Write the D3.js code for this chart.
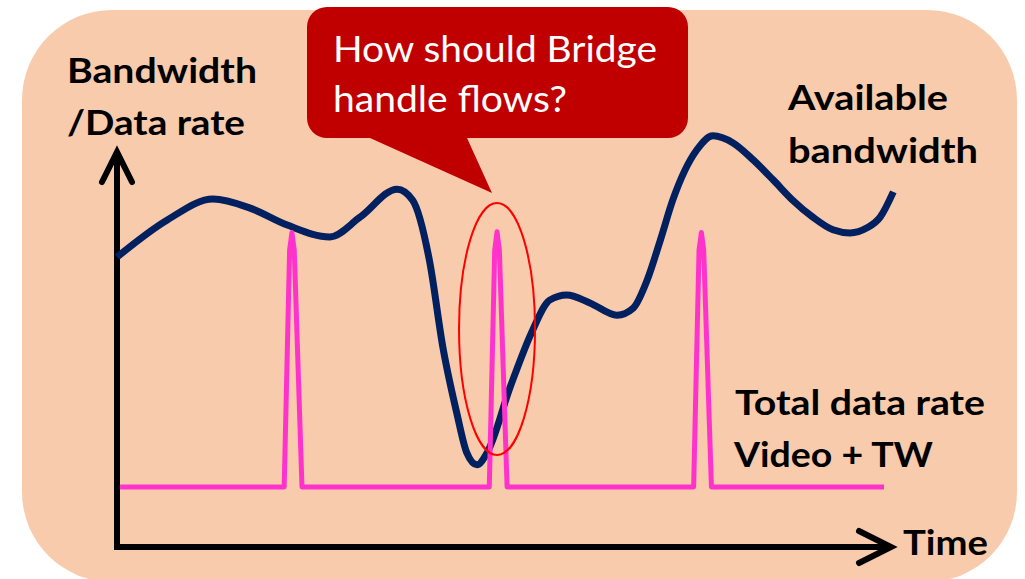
<!DOCTYPE html>
<html>
<head>
<meta charset="utf-8">
<script src="https://cdn.jsdelivr.net/npm/d3@7"></script>
<style>
  html, body { margin: 0; padding: 0; background: #fff; }
  text { font-family: Lato, "Open Sans", sans-serif; }
</style>
</head>
<body>
<script>
// available bandwidth (time, level)
let bwTime  = [0, 6.5, 12.4, 17.2, 22.0, 27.5, 31.4, 36.2, 38.2, 40.4, 42.1, 43.9, 45.2, 46.5, 47.8, 50.8, 53.7, 55.9, 58.1, 61.1, 64.6, 66.7, 68.5, 70.2, 71.8, 74.9, 77.0, 79.6, 82.2, 84.8, 87.3, 89.9, 92.5, 94.7, 96.9, 98.6, 100.3];
let bwLevel = [73.4, 82.8, 88.1, 85.8, 81.5, 78.5, 83.5, 90.6, 87.8, 72.2, 50.6, 33.9, 23.8, 20.8, 23.8, 40.5, 54.9, 62.5, 63.8, 61.8, 58.7, 60.5, 67.6, 77.7, 87.8, 100.5, 104.1, 102.3, 98.0, 92.9, 87.8, 83.5, 80.3, 79.5, 80.8, 83.5, 89.9];

// total data rate (video + TW): flat with three short bursts
let rateTime  = [0.4, 21.6, 22.3, 22.6, 22.9, 23.9, 48.1, 48.8, 49.1, 49.4, 50.4, 74.5, 75.2, 75.5, 75.8, 76.8, 99.1];
let rateLevel = [15.2, 15.2, 75.2, 79.6, 75.2, 15.2, 15.2, 75.2, 79.8, 75.2, 15.2, 15.2, 75.2, 79.6, 75.2, 15.2, 15.2];

let yLabel = ["Bandwidth", "/Data rate"];
let bwLabel = ["Available", "bandwidth"];
let rateLabel = ["Total data rate", "Video + TW"];
let xLabel = "Time";
let callout = ["How should Bridge", "handle flows?"];

let w = 1025, h = 579;

let svg = d3.select("body").append("svg").attr("width", w).attr("height", h);

// slide panel
svg.append("rect")
  .attr("x", 22).attr("y", 10).attr("width", 995).attr("height", 572)
  .attr("rx", 90).attr("ry", 90)
  .attr("fill", "#F8CBAD");

let x = d3.scaleLinear().domain([0, 100]).range([117, 891]);
let y = d3.scaleLinear().domain([0, 100]).range([547, 152]);

// axes with open arrow heads
let axes = svg.append("g").attr("stroke", "#000").attr("stroke-width", 6).attr("fill", "none");
axes.append("path")
  .attr("d", `M${x(0)},${y(0)} L${x(0)},${y(100) + 2}`)
  .attr("stroke-linecap", "square");
axes.append("path")
  .attr("d", `M${x(0)},${y(0)} L${x(100) - 2},${y(0)}`)
  .attr("stroke-linecap", "square");
axes.append("path")
  .attr("d", `M${x(0) - 15},${y(100) + 30} L${x(0)},${y(100)} L${x(0) + 15},${y(100) + 30}`)
  .attr("stroke-linecap", "round").attr("stroke-linejoin", "miter");
axes.append("path")
  .attr("d", `M${x(100) - 32},${y(0) - 16} L${x(100)},${y(0)} L${x(100) - 32},${y(0) + 16}`)
  .attr("stroke-linecap", "round").attr("stroke-linejoin", "miter");

let bwLine = d3.line()
  .x(function(d, i){ return x(bwTime[i]) })
  .y(function(d){ return y(d) })
  .curve(d3.curveMonotoneX);

svg.append("path")
  .datum(bwLevel)
  .attr("d", bwLine)
  .attr("fill", "none")
  .attr("stroke", "#002060")
  .attr("stroke-width", 7)
  .attr("stroke-linecap", "butt");

let rateLine = d3.line()
  .x(function(d, i){ return x(rateTime[i]) })
  .y(function(d){ return y(d) });

svg.append("path")
  .datum(rateLevel)
  .attr("d", rateLine)
  .attr("fill", "none")
  .attr("stroke", "#FF33CC")
  .attr("stroke-width", 5)
  .attr("stroke-linejoin", "round");

// highlight around the second burst
svg.append("ellipse")
  .attr("cx", x(49.1)).attr("cy", 329)
  .attr("rx", 38).attr("ry", 126)
  .attr("fill", "none")
  .attr("stroke", "#FF0000")
  .attr("stroke-width", 2);

// callout bubble
let bx0 = 307, bx1 = 688, by0 = 7, by1 = 138, r = 20;
let bubble = d3.path();
bubble.moveTo(bx0 + r, by0);
bubble.lineTo(bx1 - r, by0);
bubble.arcTo(bx1, by0, bx1, by0 + r, r);
bubble.lineTo(bx1, by1 - r);
bubble.arcTo(bx1, by1, bx1 - r, by1, r);
bubble.lineTo(467, by1);
bubble.lineTo(492, 193);
bubble.lineTo(370, by1);
bubble.lineTo(bx0 + r, by1);
bubble.arcTo(bx0, by1, bx0, by1 - r, r);
bubble.lineTo(bx0, by0 + r);
bubble.arcTo(bx0, by0, bx0 + r, by0, r);
bubble.closePath();
svg.append("path").attr("d", bubble.toString()).attr("fill", "#C00000");

function label(txt, px, py, len, size, weight, color) {
  svg.append("text")
    .attr("x", px).attr("y", py)
    .attr("font-size", size)
    .attr("font-weight", weight)
    .attr("fill", color)
    .attr("textLength", len)
    .attr("lengthAdjust", "spacingAndGlyphs")
    .text(txt);
}

label(callout[0], 333, 62, 324, 37, 400, "#fff");
label(callout[1], 333, 112, 234, 37, 400, "#fff");

label(yLabel[0], 67, 83, 190, 35, 700, "#000");
label(yLabel[1], 67, 135, 178, 35, 700, "#000");
label(bwLabel[0], 788, 110, 160, 35, 700, "#000");
label(bwLabel[1], 788, 163, 190, 35, 700, "#000");
label(rateLabel[0], 735, 415, 250, 35, 700, "#000");
label(rateLabel[1], 734, 467, 199, 35, 700, "#000");
label(xLabel, 903, 555, 85, 35, 700, "#000");
</script>
</body>
</html>
